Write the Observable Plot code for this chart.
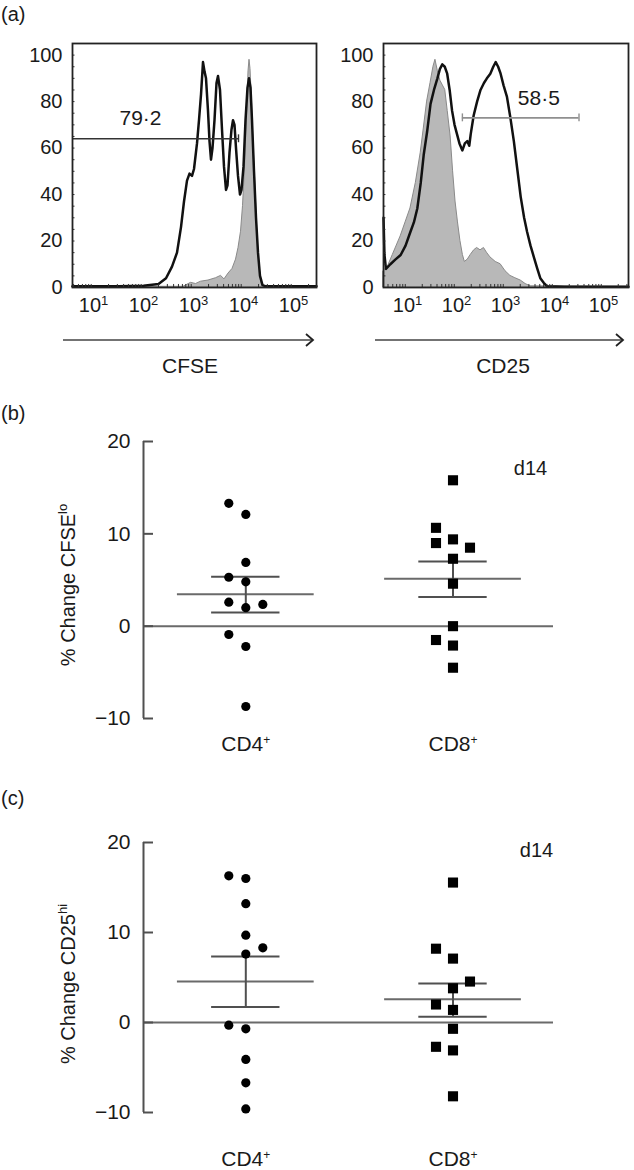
<!DOCTYPE html>
<html><head><meta charset="utf-8">
<script src="https://cdn.jsdelivr.net/npm/d3@7"></script>
<script src="https://cdn.jsdelivr.net/npm/@observablehq/plot@0.6"></script>
<style>
body{margin:0;background:#fff;}
#fig{position:relative;width:634px;height:1170px;font-family:"Liberation Sans",Arial,Helvetica,sans-serif;color:#1a1a1a;overflow:hidden;background:#fff;}
#fig > svg, #fig > div{position:absolute;}
</style></head><body><div id="fig"></div>
<script>
// ---------- Panel (a): flow cytometry histograms (x = log10 intensity, y = % of max) ----------
const decadeTicks = [1, 2, 3, 4, 5];
const histYTicks = [0, 20, 40, 60, 80, 100];

const cfseSampleX = [0.58,1.0,1.5,2.0,2.3,2.45,2.57,2.67,2.75,2.81,2.87,2.92,2.97,3.01,3.07,3.11,3.15,3.19,3.22,3.25,3.29,3.32,3.35,3.38,3.42,3.46,3.49,3.53,3.57,3.61,3.65,3.68,3.72,3.76,3.79,3.82,3.85,3.89,3.93,3.96,4.0,4.04,4.08,4.11,4.14,4.17,4.21,4.25,4.29,4.33,4.38,4.45,5.0,5.46];
const cfseSampleY = [0.5,0.5,0.5,0.8,1.5,4,9,15,26,37,46,49,48,51,62,72,83,97,93,90,76,63,55,60,72,88,91,85,68,52,42,44,58,68,72,70,60,48,40,42,52,72,86,90,86,72,50,30,15,5,1,0.5,0.5,0.5];
const cfseControlX = [0.58,2.8,2.95,3.05,3.15,3.3,3.45,3.55,3.62,3.7,3.78,3.85,3.9,3.95,3.99,4.03,4.07,4.1,4.12,4.14,4.17,4.2,4.24,4.28,4.32,4.36,4.42,5.46];
const cfseControlY = [0.3,0.3,2,1.5,2.5,3,4,5,3.5,6,8,12,17,24,35,52,75,93,98,94,80,62,43,22,9,2,0.3,0.3];

const cd25SampleX = [0.51,0.53,0.56,0.65,0.75,0.86,0.96,1.06,1.13,1.2,1.27,1.33,1.4,1.47,1.54,1.61,1.66,1.71,1.76,1.81,1.86,1.91,1.96,2.01,2.06,2.12,2.17,2.22,2.26,2.29,2.35,2.42,2.49,2.56,2.62,2.69,2.75,2.8,2.85,2.9,2.96,3.03,3.1,3.17,3.24,3.31,3.38,3.44,3.51,3.58,3.65,3.71,3.78,3.85,4.2,5.51];
const cd25SampleY = [30,14,8,10,12,14,18,24,28,34,45,57,67,79,85,90,94,96,95,92,85,76,70,66,62,59,62,63,61,66,74,80,85,88,90,92,95,97,95,92,87,82,73,63,51,39,30,24,18,13,8,4,2,0.5,0.3,0.3];
const cd25ControlX = [0.51,0.6,0.7,0.86,0.96,1.06,1.17,1.27,1.33,1.4,1.47,1.53,1.57,1.62,1.67,1.72,1.77,1.82,1.88,1.93,1.98,2.03,2.08,2.13,2.17,2.23,2.29,2.36,2.42,2.49,2.56,2.62,2.69,2.8,2.9,3.0,3.1,3.2,3.31,3.41,3.51,5.51];
const cd25ControlY = [7,9,14,22,28,34,45,58,68,80,88,95,98,93,89,87,85,76,65,50,37,28,20,14,11,12,14,16,17,16,17,15,13,11,10,7,5,4,3,1.5,0.5,0.3];

// gates: [from log10, to log10, level %, label]
const cfseGate = [0.58, 3.9, 64, "79·2"];
const cd25Gate = [2.12, 4.5, 73, "58·5"];

// ---------- Panels (b) and (c): % change per animal ----------
const groups = ["CD4", "CD8"];
const yTicks = [-10, 0, 10, 20];

const cfseCD4 = [13.3, 12.1, 6.9, 5.3, 4.8, 2.6, 2.0, 2.35, -0.9, -2.2, -8.7];
const cfseCD4Lane = [-1, 0, 0, -1, 0, -1, 0, 1, -1, 0, 0];
const cfseCD8 = [15.8, 10.65, 9.0, 9.4, 8.5, 7.3, 4.6, 0.0, -1.5, -2.1, -4.5];
const cfseCD8Lane = [0, -1, -1, 0, 1, 0, 0, 0, -1, 0, 0];
const cfseMean = [3.45, 5.13];
const cfseSemLo = [1.48, 3.17];
const cfseSemHi = [5.34, 7.0];

const cd25CD4 = [16.3, 16.0, 13.2, 9.7, 8.3, 7.6, -0.3, -0.7, -4.1, -6.7, -9.6];
const cd25CD4Lane = [-1, 0, 0, 0, 1, 0, -1, 0, 0, 0, 0];
const cd25CD8 = [15.55, 8.2, 7.1, 4.55, 3.8, 2.0, 1.4, -0.7, -2.7, -3.1, -8.2];
const cd25CD8Lane = [0, -1, 0, 1, 0, -1, 0, 0, -1, 0, 0];
const cd25Mean = [4.55, 2.59];
const cd25SemLo = [1.73, 0.63];
const cd25SemHi = [7.33, 4.33];

// ---------- rendering ----------
const FONT = '"Liberation Sans", Arial, Helvetica, sans-serif';
const fig = document.getElementById("fig");

function place(node, left, top) {
  node.style.left = left + "px";
  node.style.top = top + "px";
  fig.appendChild(node);
  return node;
}

function supTicks(svg, axis, re, supSize, shift) {
  d3.select(svg).selectAll(`g[aria-label="${axis}-axis tick label"] text`).each(function () {
    const m = this.textContent.match(re);
    if (!m) return;
    const sel = d3.select(this);
    sel.text(null);
    sel.append("tspan").text(m[1]);
    sel.append("tspan").attr("font-size", supSize).attr("dy", shift).text(m[2]);
  });
}

function histogram({sx, sy, cx, cy, logDomain, gate, gateStroke, gateEnds, labelLog, labelAt, left}) {
  const sample = sx.map((v, i) => ({x: 10 ** v, y: sy[i]}));
  const control = cx.map((v, i) => ({x: 10 ** v, y: cy[i]}));
  const g = {from: 10 ** gate[0], to: 10 ** gate[1], y: gate[2], label: gate[3]};
  const ends = gateEnds === "both" ? [g.from, g.to] : [g.to];
  const x0 = 10 ** logDomain[0], x1 = 10 ** logDomain[1];
  // minor tick positions along the frame edges (inward)
  const minorX = d3.range(0, 6).flatMap(k => d3.range(2, 10).map(m => m * 10 ** k)).filter(v => v > x0 && v < x1);
  const minorY = d3.range(5, 105, 5);
  const svg = Plot.plot({
    width: left === 0 ? 318 : 319, height: 285,
    marginLeft: 72, marginRight: 2, marginTop: 10, marginBottom: 31,
    style: {fontFamily: FONT, fontSize: "20px", color: "#1a1a1a", background: "none", overflow: "visible"},
    x: {type: "log", domain: [x0, x1]},
    y: {domain: [0, 105]},
    marks: [
      Plot.areaY(control, {x: "x", y: "y", fill: "#b8b8b8", stroke: "#8a8a8a", strokeWidth: 1}),
      Plot.lineY(sample, {x: "x", y: "y", stroke: "#111", strokeWidth: 2.5}),
      Plot.ruleX(minorX, {y1: 0, y2: 1.3, stroke: "#333", strokeWidth: 1}),
      Plot.ruleY(minorY, {y: d => d, x1: x0, x2: 10 ** (logDomain[0] + 0.05), stroke: "#333", strokeWidth: 1}),
      Plot.ruleY([g], {y: "y", x1: "from", x2: "to", stroke: gateStroke, strokeWidth: 1.6}),
      Plot.ruleX(ends, {x: d => d, y1: g.y - 1.7, y2: g.y + 1.7, stroke: gateStroke, strokeWidth: 1.4}),
      Plot.text([g], {x: () => 10 ** labelLog, y: () => labelAt, text: "label", fontSize: 21, fill: "#1a1a1a"}),
      Plot.frame({stroke: "#222", strokeWidth: 1.8}),
      Plot.axisX(decadeTicks.map(d => 10 ** d), {tickSize: 0, tickPadding: 10, label: null, tickFormat: d => "10^" + Math.round(Math.log10(d))}),
      Plot.axisY(histYTicks, {tickSize: 0, tickPadding: 10, label: null})
    ]
  });
  supTicks(svg, "x", /^(10)\^(\d)$/, "13px", "-0.5em");
  place(svg, left, 33);
}

histogram({sx: cfseSampleX, sy: cfseSampleY, cx: cfseControlX, cy: cfseControlY,
  logDomain: [0.58, 5.46], gate: cfseGate, gateStroke: "#333", gateEnds: "to", labelLog: 1.94, labelAt: 73, left: 0});
histogram({sx: cd25SampleX, sy: cd25SampleY, cx: cd25ControlX, cy: cd25ControlY,
  logDomain: [0.51, 5.51], gate: cd25Gate, gateStroke: "#8f8f8f", gateEnds: "both", labelLog: 3.68, labelAt: 81.5, left: 311});

function scatter({cd4, cd4Lane, cd8, cd8Lane, mean, lo, hi, yLabel, yLabelSup, top, height, marginTop, marginBottom, xPad, d14dx, d14dy, labelCy}) {
  const pxPerUnit = 207.2, laneW = 17 / pxPerUnit, tickLen = 10 / pxPerUnit;
  const xDom = [(143 - 245.3) / pxPerUnit, (553 - 245.3) / pxPerUnit];
  const p4 = cd4.map((v, i) => ({x: 0 + cd4Lane[i] * laneW, y: v}));
  const p8 = cd8.map((v, i) => ({x: 1 + cd8Lane[i] * laneW, y: v}));
  const stats = groups.map((name, i) => ({g: i, mean: mean[i], lo: lo[i], hi: hi[i]}));
  const line = {stroke: "#505050", strokeWidth: 2};
  const svg = Plot.plot({
    width: 634, height, marginLeft: 143, marginRight: 81, marginTop, marginBottom,
    style: {fontFamily: FONT, fontSize: "21px", color: "#1a1a1a", background: "none", overflow: "visible"},
    x: {domain: xDom},
    y: {domain: [-10, 20]},
    marks: [
      Plot.ruleY([0], {stroke: "#6a6a6a", strokeWidth: 2}),
      Plot.ruleX([xDom[0]], {y1: -10, y2: 20, ...line}),
      Plot.ruleY(yTicks, {x1: xDom[0], x2: xDom[0] + tickLen, ...line}),
      Plot.ruleY(stats, {y: "mean", x1: d => d.g - 0.33, x2: d => d.g + 0.33, stroke: "#6a6a6a", strokeWidth: 2}),
      Plot.ruleY(stats, {y: "lo", x1: d => d.g - 0.165, x2: d => d.g + 0.165, ...line}),
      Plot.ruleY(stats, {y: "hi", x1: d => d.g - 0.165, x2: d => d.g + 0.165, ...line}),
      Plot.ruleX(stats, {x: "g", y1: "lo", y2: "hi", ...line}),
      Plot.dot(p4, {x: "x", y: "y", r: 4.6, fill: "#000", stroke: null}),
      Plot.dot(p8, {x: "x", y: "y", symbol: "square", r: 5.7, fill: "#000", stroke: null}),
      Plot.text(["d14"], {frameAnchor: "top-right", textAnchor: "middle", dx: d14dx, dy: d14dy, fontSize: 20, fill: "#1a1a1a"}),
      Plot.axisX([0, 1], {tickSize: 0, tickPadding: xPad, label: null, tickFormat: i => groups[i] + "^+"}),
      Plot.axisY(yTicks, {tickSize: 0, tickPadding: 13, label: null, tickFormat: d => d < 0 ? "\u2212" + (-d) : String(d)})
    ]
  });
  supTicks(svg, "x", /^(CD\d)\^(\+)$/, "12px", "-0.6em");
  const t = d3.select(svg).append("text")
    .attr("transform", `translate(68,${labelCy}) rotate(-90)`)
    .attr("text-anchor", "middle").attr("dy", "0.35em")
    .attr("font-size", 20).attr("fill", "#1a1a1a");
  t.append("tspan").text(yLabel);
  t.append("tspan").attr("font-size", 13).attr("dy", "-0.65em").text(yLabelSup);
  place(svg, 0, top);
}

scatter({cd4: cfseCD4, cd4Lane: cfseCD4Lane, cd8: cfseCD8, cd8Lane: cfseCD8Lane,
  mean: cfseMean, lo: cfseSemLo, hi: cfseSemHi, yLabel: "% Change CFSE", yLabelSup: "lo",
  top: 400, height: 370, marginTop: 41, marginBottom: 52, xPad: 18, d14dx: -23, d14dy: 19, labelCy: 185});
scatter({cd4: cd25CD4, cd4Lane: cd25CD4Lane, cd8: cd25CD8, cd8Lane: cd25CD8Lane,
  mean: cd25Mean, lo: cd25SemLo, hi: cd25SemHi, yLabel: "% Change CD25", yLabelSup: "hi",
  top: 790, height: 380, marginTop: 52, marginBottom: 58, xPad: 39, d14dx: -17, d14dy: 0, labelCy: 194});

// ---------- overlay: panel letters, axis arrows and their titles ----------
const ov = d3.create("svg").attr("width", 634).attr("height", 1170)
  .style("font-family", FONT).style("pointer-events", "none");
[["(a)", 21], ["(b)", 420], ["(c)", 805]].forEach(([s, y]) =>
  ov.append("text").attr("x", 1).attr("y", y).attr("font-size", 20).attr("fill", "#1a1a1a").text(s));
[[63, 313, "CFSE", 190], [375, 623, "CD25", 503]].forEach(([x1, x2, s, cx]) => {
  ov.append("line").attr("x1", x1).attr("x2", x2).attr("y1", 340).attr("y2", 340)
    .attr("stroke", "#444").attr("stroke-width", 1.6);
  ov.append("path").attr("d", `M${x2 - 7},${334} L${x2},340 L${x2 - 7},${346}`)
    .attr("fill", "none").attr("stroke", "#222").attr("stroke-width", 1.8);
  ov.append("text").attr("x", cx).attr("y", 373).attr("text-anchor", "middle")
    .attr("font-size", 21).attr("fill", "#1a1a1a").text(s);
});
place(ov.node(), 0, 0);
</script></body></html>
